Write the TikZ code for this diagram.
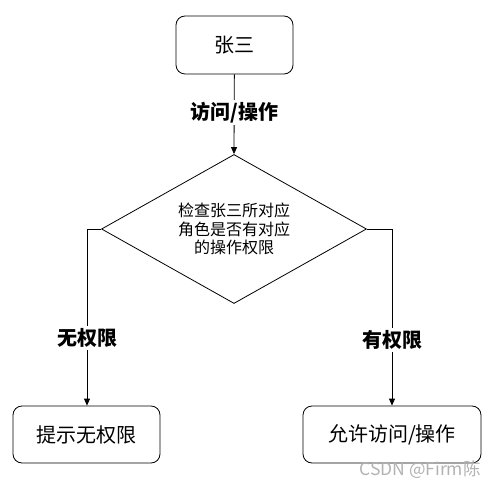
\documentclass[tikz,border=0pt]{standalone}
\usepackage{fontspec}
\newfontfamily\cjk{Noto Sans CJK SC}
\usetikzlibrary{arrows.meta,shapes.geometric}
\begin{document}
\begin{tikzpicture}[x=1pt,y=-1pt,
  box/.style={draw,rounded corners=9pt,line width=0.8pt,font=\cjk\fontsize{20}{24}\selectfont},
  lab/.style={fill=white,inner sep=2pt,font=\cjk\bfseries\fontsize{20}{24}\selectfont},
  conn/.style={line width=0.8pt},
  arr/.style={conn,-{Triangle[length=7pt,width=6pt]}}]
\useasboundingbox (0,0) rectangle (498,489);
\node[box,minimum width=117pt,minimum height=58pt] (zs) at (234.5,45) {张三};
\node[draw,diamond,line width=0.8pt,minimum width=265pt,minimum height=149pt,inner sep=0pt] (chk) at (234,229) {};
\node[font=\cjk\fontsize{16}{18.5}\selectfont,align=center] (chkt) at (234,229) {检查张三所对应\\角色是否有对应\\的操作权限};
\node[box,minimum width=147pt,minimum height=57pt] (no) at (86.5,434.5) {提示无权限};
\node[box,minimum width=178pt,minimum height=57pt] (yes) at (392,434.5) {允许访问/操作};
\draw[arr] (zs) -- (chk.north) node[lab,pos=0.48] (l1) {访问/操作};
\coordinate (lc) at (87,229);
\coordinate (rc) at (392,229);
\draw[arr] (chk.west) -- (lc) -- (no.north -| lc);
\draw[arr] (chk.east) -- (rc) -- (yes.north -| rc);
\node[lab] (l2) at (87,338) {无权限};
\node[lab] (l3) at (392,340) {有权限};
\node[font=\cjk\fontsize{17.5}{20}\selectfont,text=black!30] (wm) at (420,470) {CSDN @Firm陈};
\end{tikzpicture}
\end{document}
